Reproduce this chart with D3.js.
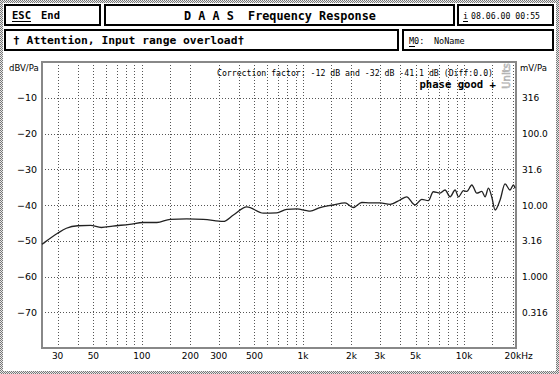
<!DOCTYPE html>
<html>
  <script src="https://d3js.org/d3.v7.min.js" type="text/JavaScript"></script>
  <body style="margin:0">
    <svg></svg>
    <script>
// measured response (Hz, dBV/Pa)
var freqs = [24, 24.5, 30, 34, 40, 48, 56, 66, 84, 102, 124, 150, 190, 241, 320, 370, 448, 568, 687, 793, 915,
  1055, 1107, 1276, 1543, 1824, 2054, 2316, 2609, 3010, 3470, 4000, 4400, 4960, 5460, 6000, 6440, 7090, 7620,
  8190, 8800, 9230, 9910, 10400, 11170, 11990, 12880, 13500, 14160, 14840, 15580, 16730, 17960, 19280, 20230, 20720];
var levels = [-51, -50.7, -47.9, -46.5, -45.8, -45.7, -46.3, -45.9, -45.4, -44.9, -44.9, -44.0, -43.9, -44.0, -44.6, -42.8, -40.5, -42.3, -42.2, -41.2, -41.1,
  -41.6, -41.7, -40.7, -40.0, -39.4, -40.7, -39.3, -39.4, -39.4, -39.8, -38.6, -37.7, -40.0, -38.4, -38.8, -36.3, -36.7, -35.8,
  -37.7, -35.8, -37.7, -36.0, -36.2, -34.4, -36.7, -36.2, -37.7, -35.3, -37.7, -41.4, -38.6, -34.1, -35.8, -34.4, -35.3];

var dbTicks = [-10, -20, -30, -40, -50, -60, -70];
var mvLabels = ['316', '100.0', '31.6', '10.00', '3.16', '1.000', '0.316'];
var freqTicks = [30, 50, 100, 200, 300, 500, 1000, 2000, 3000, 5000, 10000, 20000];
var freqTickLabels = ['30', '50', '100', '200', '300', '500', '1k', '2k', '3k', '5k', '10k', '20kHz'];
var freqGrid = [30, 40, 50, 60, 70, 80, 90, 100, 150, 200, 300, 400, 500, 600, 700, 800, 900,
  1000, 1500, 2000, 3000, 4000, 5000, 6000, 7000, 8000, 9000, 10000, 15000, 20000];

var W = 559, H = 374;
var svg = d3.select('svg').attr('width', W).attr('height', H);

var pat = svg.append('defs').append('pattern')
  .attr('id', 'dith').attr('width', 2).attr('height', 2).attr('patternUnits', 'userSpaceOnUse');
pat.append('rect').attr('width', 2).attr('height', 2).attr('fill', '#e8e8e8');
pat.append('rect').attr('width', 1).attr('height', 1).attr('fill', '#777');
pat.append('rect').attr('x', 1).attr('y', 1).attr('width', 1).attr('height', 1).attr('fill', '#777');

// window frame
svg.append('rect').attr('width', W).attr('height', H).attr('fill', 'url(#dith)');
svg.append('rect').attr('x', 3).attr('y', 3).attr('width', W - 6).attr('height', H - 6).attr('fill', '#fff');

var mono = 'DejaVu Sans Mono';

function box(x, y, w, h) {
  svg.append('rect').attr('x', x).attr('y', y).attr('width', w).attr('height', h)
    .attr('fill', 'none').attr('stroke', '#000').attr('stroke-width', 2);
}
function txt(x, y, s, size, weight, anchor) {
  return svg.append('text').attr('x', x).attr('y', y).text(s)
    .style('font-family', mono).style('font-size', size + 'px')
    .style('font-weight', weight || 'normal').attr('text-anchor', anchor || 'start').attr('fill', '#000');
}

box(5, 5, 95, 20);
box(105, 5, 349, 20);
box(458, 5, 95, 20);
box(5, 30, 393, 20);
box(403, 30, 150, 20);

txt(12, 19, 'ESC', 10.5, 'bold');
svg.append('line').attr('x1', 12).attr('x2', 31).attr('y1', 21.5).attr('y2', 21.5).attr('stroke', '#000');
txt(41, 19, 'End', 10.5, 'bold');
txt(280, 19.5, 'D A A S  Frequency Response', 11.8, 'bold', 'middle').attr('xml:space', 'preserve');
txt(463, 19, 'i', 8.5);
svg.append('line').attr('x1', 463).attr('x2', 468).attr('y1', 21.5).attr('y2', 21.5).attr('stroke', '#000');
txt(471, 19, '08.06.00 00:55', 8.2);
txt(13, 44, '\u2020 Attention, Input range overload\u2020', 11.3, 'bold');
txt(409, 44, 'M0:', 8.5);
svg.append('line').attr('x1', 409).attr('x2', 415).attr('y1', 46.5).attr('y2', 46.5).attr('stroke', '#000');
txt(434, 44, 'NoName', 8.5);

// plot
var pLeft = 42, pRight = 516, pTop = 62, pBottom = 348;
var x = d3.scaleLog().domain([24, 21000]).range([pLeft, pRight]);
var y = d3.scaleLinear().domain([-80, 0]).range([pBottom, pTop]);

var grid = svg.append('g').attr('stroke', '#555').attr('stroke-width', 1).attr('stroke-dasharray', '1,2');
grid.selectAll('.v').data(freqGrid).enter().append('line')
  .attr('x1', d => Math.round(x(d)) + 0.5).attr('x2', d => Math.round(x(d)) + 0.5)
  .attr('y1', pTop).attr('y2', pBottom);
grid.selectAll('.h').data(dbTicks).enter().append('line')
  .attr('x1', pLeft).attr('x2', pRight)
  .attr('y1', d => Math.round(y(d)) + 0.5).attr('y2', d => Math.round(y(d)) + 0.5);

svg.append('rect').attr('x', pLeft).attr('y', pTop).attr('width', pRight - pLeft).attr('height', pBottom - pTop)
  .attr('fill', 'none').attr('stroke', '#888').attr('stroke-width', 2);

var sans = 'DejaVu Sans';
svg.selectAll('.yl').data(dbTicks).enter().append('text')
  .attr('x', 37).attr('y', d => y(d) + 3.5).attr('text-anchor', 'end')
  .style('font-family', sans).style('font-size', '9.5px').text(d => '\u2212' + Math.abs(d));
svg.selectAll('.yr').data(dbTicks).enter().append('text')
  .attr('x', 522).attr('y', d => y(d) + 3.5)
  .style('font-family', sans).style('font-size', '9px').text((d, i) => mvLabels[i]);
svg.selectAll('.xl').data(freqTicks).enter().append('text')
  .attr('x', (d, i) => x(d) + (i == freqTicks.length - 1 ? 6 : 0)).attr('y', 359).attr('text-anchor', 'middle')
  .style('font-family', sans).style('font-size', '9px').text((d, i) => freqTickLabels[i]);

svg.append('text').attr('x', 9).attr('y', 71).style('font-family', sans).style('font-size', '8.5px').text('dBV/Pa');
svg.append('text').attr('x', 520).attr('y', 71).style('font-family', sans).style('font-size', '8.5px').text('mV/Pa');

txt(493, 76, 'Correction factor: -12 dB and -32 dB -41.1 dB (Diff:0.0)', 8.2, 'normal', 'end');
txt(496, 87.5, 'phase good +', 10.6, 'bold', 'end').attr('xml:space', 'preserve');
svg.append('text').attr('transform', 'translate(510,76) rotate(-90)').attr('text-anchor', 'middle')
  .style('font-family', sans).style('font-size', '10px').attr('fill', '#fff')
  .attr('stroke', '#aaa').attr('stroke-width', 0.6).text('Units');

var pts = freqs.map((f, i) => [f, levels[i]]);
svg.append('path').datum(pts)
  .attr('d', d3.line().x(d => x(d[0])).y(d => y(d[1])).curve(d3.curveMonotoneX))
  .attr('fill', 'none').attr('stroke', '#222').attr('stroke-width', 1.3);
    </script>
  </body>
</html>
